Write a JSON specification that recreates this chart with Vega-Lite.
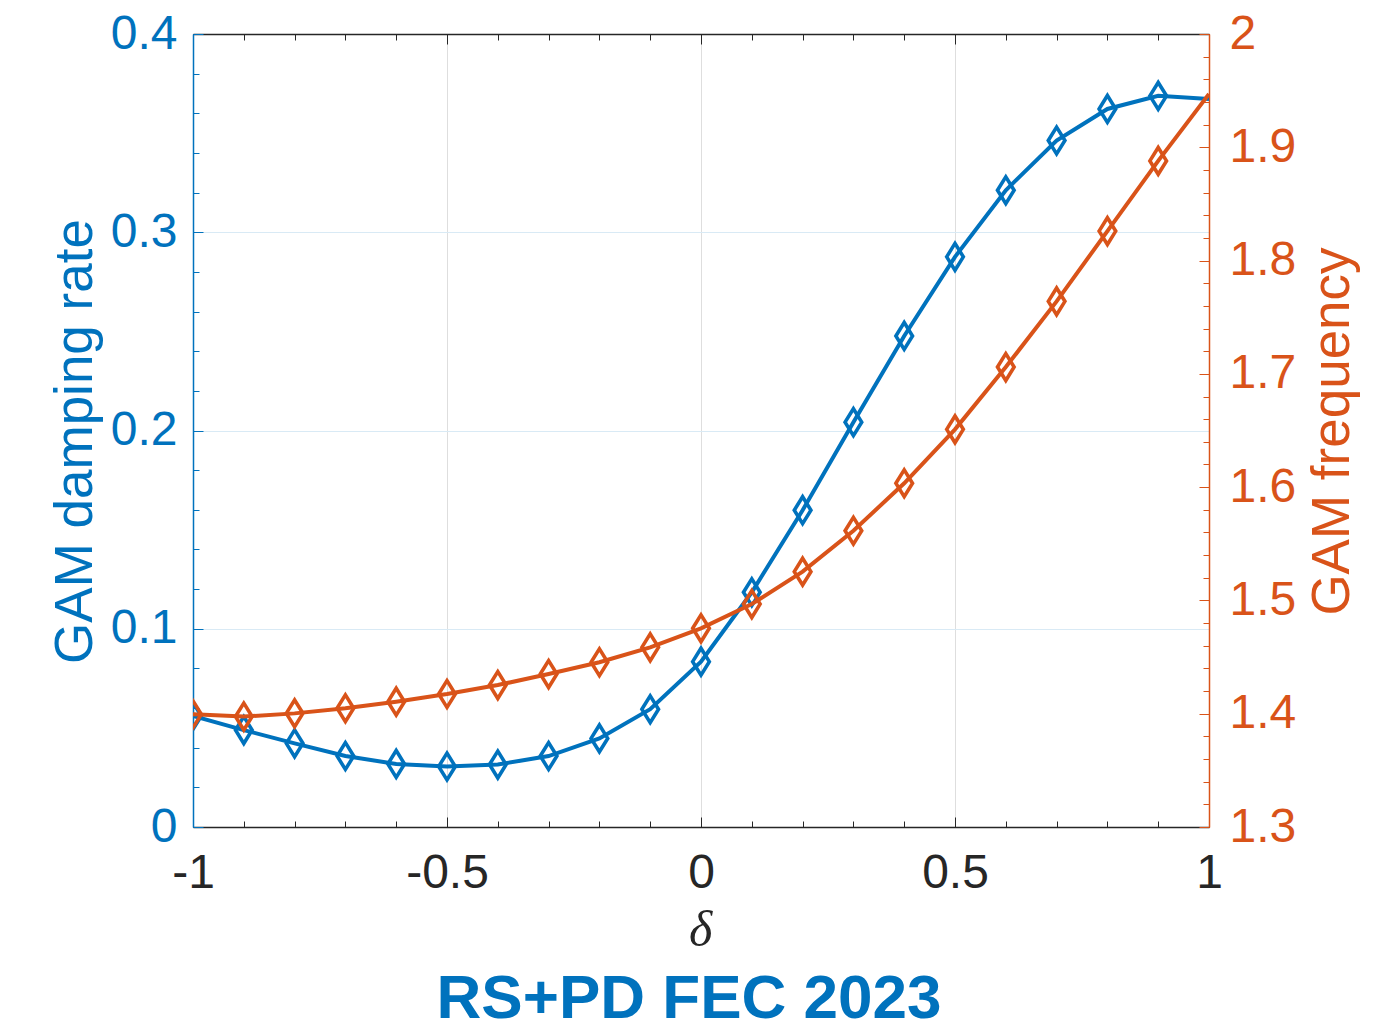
{
  "$schema": "https://vega.github.io/schema/vega-lite/v6.json",
  "width": 1016,
  "height": 793,
  "autosize": "none",
  "padding": {"left": 193, "top": 34, "right": 186, "bottom": 206},
  "background": "white",
  "config": {"view": {"stroke": null}, "font": "Liberation Sans"},
  "title": {"text": "RS+PD FEC 2023", "orient": "bottom", "anchor": "middle", "font": "Liberation Sans", "fontSize": 62, "fontWeight": "bold", "color": "#0072BD", "offset": 14, "dx": -12},
  "datasets": {
    "gam": [
      {"delta": -1.0, "damping": 0.0560, "frequency": 1.3995},
      {"delta": -0.9, "damping": 0.0489, "frequency": 1.3975},
      {"delta": -0.8, "damping": 0.0422, "frequency": 1.4003},
      {"delta": -0.7, "damping": 0.0358, "frequency": 1.4048},
      {"delta": -0.6, "damping": 0.0318, "frequency": 1.4106},
      {"delta": -0.5, "damping": 0.0305, "frequency": 1.4174},
      {"delta": -0.4, "damping": 0.0315, "frequency": 1.4253},
      {"delta": -0.3, "damping": 0.0358, "frequency": 1.4350},
      {"delta": -0.2, "damping": 0.0447, "frequency": 1.4454},
      {"delta": -0.1, "damping": 0.0594, "frequency": 1.4586},
      {"delta": 0.0, "damping": 0.0834, "frequency": 1.4754},
      {"delta": 0.1, "damping": 0.1184, "frequency": 1.4968},
      {"delta": 0.2, "damping": 0.1598, "frequency": 1.5254},
      {"delta": 0.3, "damping": 0.2042, "frequency": 1.5615},
      {"delta": 0.4, "damping": 0.2477, "frequency": 1.6034},
      {"delta": 0.5, "damping": 0.2876, "frequency": 1.6510},
      {"delta": 0.6, "damping": 0.3212, "frequency": 1.7060},
      {"delta": 0.7, "damping": 0.3463, "frequency": 1.7640},
      {"delta": 0.8, "damping": 0.3622, "frequency": 1.8260},
      {"delta": 0.9, "damping": 0.3688, "frequency": 1.8880},
      {"delta": 1.0, "damping": 0.3672, "frequency": 1.9470}
    ]
  },
  "data": {"name": "gam"},
  "resolve": {"scale": {"y": "independent"}, "axis": {"x": "independent", "y": "independent"}},
  "layer": [
    {
      "encoding": {
        "x": {
          "field": "delta", "type": "quantitative",
          "scale": {"domain": [-1, 1], "nice": false, "zero": false},
          "axis": {
            "orient": "bottom",
            "values": [-1,-0.9,-0.8,-0.7,-0.6,-0.5,-0.4,-0.3,-0.2,-0.1,0,0.1,0.2,0.3,0.4,0.5,0.6,0.7,0.8,0.9,1],
            "labelExpr": "abs(datum.value*2 - round(datum.value*2)) < 0.001 ? datum.value + '' : ''",
            "labelFont": "Liberation Sans", "labelFontSize": 48, "labelColor": "#262626", "labelPadding": 32,
            "labelFlush": false, "labelOverlap": false,
            "tickSize": {"condition": {"test": "abs(datum.value*2 - round(datum.value*2)) < 0.001", "value": -10}, "value": -6},
            "tickColor": "#262626", "tickWidth": 1,
            "domainColor": "#262626", "domainWidth": 1.5,
            "grid": true, "gridColor": "#dedede", "gridWidth": 1,
            "gridOpacity": {"condition": {"test": "abs(datum.value*2 - round(datum.value*2)) < 0.001", "value": 1}, "value": 0},
            "title": "δ", "titleFont": "Liberation Serif", "titleFontStyle": "italic", "titleFontWeight": "normal",
            "titleFontSize": 50, "titleColor": "#262626",
            "titleX": 507, "titleY": 103, "titleAlign": "center", "titleBaseline": "middle"
          }
        },
        "y": {
          "field": "damping", "type": "quantitative",
          "scale": {"domain": [0, 0.4], "nice": false},
          "axis": {
            "orient": "left",
            "values": [0,0.02,0.04,0.06,0.08,0.1,0.12,0.14,0.16,0.18,0.2,0.22,0.24,0.26,0.28,0.3,0.32,0.34,0.36,0.38,0.4],
            "labelExpr": "abs(datum.value*10 - round(datum.value*10)) < 0.001 ? datum.value + '' : ''",
            "labelFont": "Liberation Sans", "labelFontSize": 48, "labelColor": "#0072BD", "labelPadding": 26,
            "labelFlush": false, "labelOverlap": false,
            "tickSize": {"condition": {"test": "abs(datum.value*10 - round(datum.value*10)) < 0.001", "value": -10}, "value": -6},
            "tickColor": "#0072BD", "tickWidth": 1,
            "domainColor": "#0072BD", "domainWidth": 1.5,
            "grid": true, "gridColor": "#d9eaf5", "gridWidth": 1,
            "gridOpacity": {"condition": {"test": "abs(datum.value*10 - round(datum.value*10)) < 0.001", "value": 1}, "value": 0},
            "title": "GAM damping rate", "titleFont": "Liberation Sans", "titleFontWeight": "normal",
            "titleFontSize": 53, "titleColor": "#0072BD",
            "titleAngle": -90, "titleX": -118, "titleY": 407, "titleAlign": "center", "titleBaseline": "middle"
          }
        }
      },
      "layer": [
        {"mark": {"type": "line", "color": "#0072BD", "strokeWidth": 4, "clip": true}},
        {
          "transform": [{"filter": "datum.delta < 0.999"}],
          "mark": {"type": "point", "shape": "M-0.62,0L0,-1L0.62,0L0,1Z", "size": 720, "filled": false, "color": "#0072BD", "strokeWidth": 3.6, "opacity": 1, "clip": true}
        }
      ]
    },
    {
      "encoding": {
        "x": {
          "field": "delta", "type": "quantitative",
          "scale": {"domain": [-1, 1], "nice": false, "zero": false},
          "axis": {
            "orient": "top",
            "values": [-1,-0.9,-0.8,-0.7,-0.6,-0.5,-0.4,-0.3,-0.2,-0.1,0,0.1,0.2,0.3,0.4,0.5,0.6,0.7,0.8,0.9,1],
            "labels": false,
            "tickSize": {"condition": {"test": "abs(datum.value*2 - round(datum.value*2)) < 0.001", "value": -10}, "value": -6},
            "tickColor": "#262626", "tickWidth": 1,
            "domainColor": "#262626", "domainWidth": 1.5,
            "grid": false, "title": null
          }
        },
        "y": {
          "field": "frequency", "type": "quantitative",
          "scale": {"domain": [1.3, 2.0], "nice": false, "zero": false},
          "axis": {
            "orient": "right",
            "values": [1.3,1.32,1.34,1.36,1.38,1.4,1.42,1.44,1.46,1.48,1.5,1.52,1.54,1.56,1.58,1.6,1.62,1.64,1.66,1.68,1.7,1.72,1.74,1.76,1.78,1.8,1.82,1.84,1.86,1.88,1.9,1.92,1.94,1.96,1.98,2],
            "labelExpr": "abs(datum.value*10 - round(datum.value*10)) < 0.001 ? datum.value + '' : ''",
            "labelFont": "Liberation Sans", "labelFontSize": 48, "labelColor": "#D95319", "labelPadding": 30,
            "labelFlush": false, "labelOverlap": false,
            "tickSize": {"condition": {"test": "abs(datum.value*10 - round(datum.value*10)) < 0.001", "value": -10}, "value": -6},
            "tickColor": "#D95319", "tickWidth": 1,
            "domainColor": "#D95319", "domainWidth": 1.5,
            "grid": false,
            "title": "GAM frequency", "titleFont": "Liberation Sans", "titleFontWeight": "normal",
            "titleFontSize": 53, "titleColor": "#D95319",
            "titleAngle": -90, "titleX": 123, "titleY": 397, "titleAlign": "center", "titleBaseline": "middle"
          }
        }
      },
      "layer": [
        {"mark": {"type": "line", "color": "#D95319", "strokeWidth": 4, "clip": true}},
        {
          "transform": [{"filter": "datum.delta < 0.999"}],
          "mark": {"type": "point", "shape": "M-0.62,0L0,-1L0.62,0L0,1Z", "size": 720, "filled": false, "color": "#D95319", "strokeWidth": 3.6, "opacity": 1, "clip": true}
        }
      ]
    }
  ]
}
